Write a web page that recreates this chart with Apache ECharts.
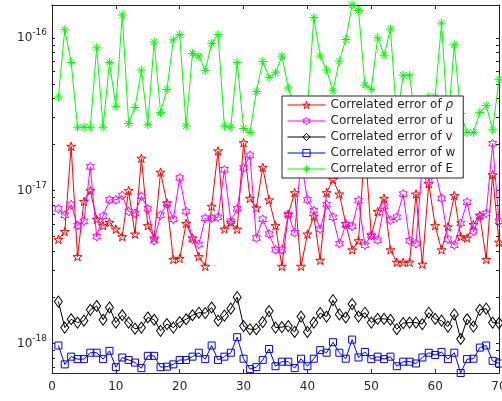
<!DOCTYPE html>
<html>
<head>
<meta charset="utf-8">
<script src="https://cdn.jsdelivr.net/npm/echarts@6/dist/echarts.min.js"></script>
<style>
  html, body { margin: 0; padding: 0; background: #fff; }
  #chart { width: 502px; height: 401px; }
</style>
</head>
<body>
<div id="chart"></div>
<script>
// x positions (iteration index)
const xs = [1,2,3,4,5,6,7,8,9,10,11,12,13,14,15,16,17,18,19,20,
  21,22,23,24,25,26,27,28,29,30,31,32,33,34,35,36,37,38,39,40,
  41,42,43,44,45,46,47,48,49,50,51,52,53,54,55,56,57,58,59,60,
  61,62,63,64,65,66,67,68,69,70];

// correlated error of rho
const errRho = [4.8e-18,5.4e-18,1.95e-17,3.7e-18,8.5e-18,1.0e-17,6.5e-18,5.9e-18,6.2e-18,5.6e-18,
  5.0e-18,1.0e-17,5.2e-18,1.63e-17,5.9e-18,4.9e-18,1.32e-17,8.3e-18,3.55e-18,3.6e-18,
  6.1e-18,4.9e-18,3.7e-18,3.2e-18,7.9e-18,1.82e-17,5.6e-18,6.2e-18,5.6e-18,2.06e-17,
  8.9e-18,7.7e-18,1.42e-17,8.7e-18,5.9e-18,3.2e-18,7.0e-18,9.7e-18,3.2e-18,5.2e-18,
  6.8e-18,3.5e-18,9.7e-18,1.18e-17,9.5e-18,6.1e-18,4.1e-18,4.7e-18,2.0e-17,5.1e-18,
  7.3e-18,8.9e-18,4.1e-18,3.4e-18,3.4e-18,3.4e-18,9.5e-18,3.3e-18,1.11e-17,5.9e-18,
  4.1e-18,5.8e-18,9.3e-18,5.0e-18,4.9e-18,6.0e-18,6.9e-18,3.55e-18,1.27e-17,4.6e-18];

// correlated error of u
const errU = [7.6e-18,6.9e-18,8.1e-18,5.9e-18,6.3e-18,1.43e-17,5.0e-18,6.8e-18,8.7e-18,8.7e-18,
  9.3e-18,7.3e-18,7.1e-18,9.2e-18,7.6e-18,4.7e-18,6.9e-18,8.2e-18,6.5e-18,1.21e-17,
  7.3e-18,4.8e-18,4.45e-18,6.6e-18,6.6e-18,6.7e-18,1.37e-17,6.3e-18,7.6e-18,1.41e-17,
  1.7e-17,4.9e-18,6.5e-18,5.2e-18,4.1e-18,4.1e-18,7.0e-18,5.3e-18,1.6e-17,8.7e-18,
  7.4e-18,5.6e-18,8.1e-18,6.7e-18,4.5e-18,6.0e-18,5.85e-18,8.6e-18,4.4e-18,5.1e-18,
  4.75e-18,7.9e-18,6.4e-18,6.7e-18,9.5e-18,4.7e-18,4.5e-18,1.5e-17,1.17e-17,1.35e-17,
  8.9e-18,4.8e-18,4.4e-18,6.1e-18,8.4e-18,5.4e-18,6.8e-18,7.1e-18,2.03e-17,6.3e-18];

// correlated error of v
const errV = [1.88e-18,1.27e-18,1.44e-18,1.37e-18,1.41e-18,1.66e-18,1.76e-18,1.43e-18,1.72e-18,1.37e-18,
  1.53e-18,1.37e-18,1.25e-18,1.27e-18,1.48e-18,1.43e-18,1.21e-18,1.34e-18,1.27e-18,1.38e-18,
  1.44e-18,1.53e-18,1.59e-18,1.58e-18,1.72e-18,1.41e-18,1.52e-18,1.69e-18,2.01e-18,1.30e-18,
  1.24e-18,1.24e-18,1.38e-18,1.63e-18,1.27e-18,1.28e-18,1.30e-18,1.19e-18,1.50e-18,1.19e-18,
  1.37e-18,1.58e-18,1.50e-18,1.92e-18,1.55e-18,1.48e-18,1.81e-18,1.50e-18,1.59e-18,1.37e-18,
  1.45e-18,1.45e-18,1.43e-18,1.24e-18,1.36e-18,1.37e-18,1.37e-18,1.34e-18,1.59e-18,1.45e-18,
  1.41e-18,1.29e-18,1.55e-18,1.07e-18,1.44e-18,1.29e-18,1.66e-18,1.69e-18,1.37e-18,1.36e-18];

// correlated error of w
const errW = [9.7e-19,7.3e-19,8.2e-19,7.9e-19,7.9e-19,8.7e-19,8.7e-19,7.9e-19,8.95e-19,7.0e-19,
  8.1e-19,7.8e-19,7.5e-19,6.9e-19,8.3e-19,8.3e-19,7.0e-19,7.05e-19,7.3e-19,7.8e-19,
  7.8e-19,8.2e-19,8.7e-19,7.9e-19,9.7e-19,7.8e-19,8.2e-19,8.7e-19,1.1e-18,7.95e-19,
  6.8e-19,7.0e-19,7.8e-19,9.2e-19,7.1e-19,7.6e-19,7.6e-19,6.9e-19,7.95e-19,7.1e-19,
  7.95e-19,9.05e-19,8.7e-19,1.02e-18,8.7e-19,7.95e-19,1.06e-18,8.1e-19,8.8e-19,7.9e-19,
  8.2e-19,7.9e-19,8.2e-19,7.1e-19,7.6e-19,7.6e-19,7.4e-19,8.1e-19,8.7e-19,8.4e-19,
  8.8e-19,7.9e-19,8.7e-19,6.41e-19,7.9e-19,7.95e-19,9.4e-19,9.7e-19,7.7e-19,7.4e-19];

// correlated error of E
const errE = [4.1e-17,1.13e-16,6.9e-17,2.6e-17,2.6e-17,2.6e-17,8.6e-17,2.6e-17,6.9e-17,3.55e-17,
  1.41e-16,2.75e-17,3.5e-17,6.15e-17,2.7e-17,9.4e-17,3.25e-17,4.6e-17,9.7e-17,1.05e-16,
  2.65e-17,7.9e-17,7.6e-17,6.1e-17,9.2e-17,1.05e-16,2.65e-17,2.6e-17,6.9e-17,2.55e-17,
  2.4e-17,4.45e-17,7.0e-17,5.5e-17,5.9e-17,7.6e-17,4.7e-17,3.5e-17,2.5e-17,3.4e-17,
  1.36e-16,7.6e-17,6.15e-17,4.5e-17,7.05e-17,9.75e-17,1.64e-16,1.51e-16,4.9e-17,4.6e-17,
  1.0e-16,7.7e-17,1.14e-16,2.9e-17,5.7e-17,5.7e-17,2.6e-17,3.1e-17,4.1e-17,4.1e-17,
  1.25e-16,2.7e-17,9.0e-17,3.2e-17,2.4e-17,2.4e-17,3.25e-17,3.6e-17,2.5e-17,5.35e-17];

// log axis ticks (1..9 x 10^n) and labelled decades
const yTicks = [7e-19,8e-19,9e-19,
  1e-18,2e-18,3e-18,4e-18,5e-18,6e-18,7e-18,8e-18,9e-18,
  1e-17,2e-17,3e-17,4e-17,5e-17,6e-17,7e-17,8e-17,9e-17,1e-16];
const yLabels = [1e-18,1e-17,1e-16];

const seriesNames = ['Correlated error of {i|ρ}','Correlated error of u','Correlated error of v',
  'Correlated error of w','Correlated error of E'];
const seriesColors = ['#ff0000','#ff00ff','#000000','#0000ff','#00ff00'];

// marker shapes like MATLAB p, h, d, s, *
const pentagram = 'path://M0,-1L0.2245,-0.309L0.951,-0.309L0.3633,0.118L0.588,0.809L0,0.382L-0.588,0.809L-0.3633,0.118L-0.951,-0.309L-0.2245,-0.309Z';
const hexagram = 'path://M0,-1L0.2887,-0.5L0.866,-0.5L0.577,0L0.866,0.5L0.2887,0.5L0,1L-0.2887,0.5L-0.866,0.5L-0.577,0L-0.866,-0.5L-0.2887,-0.5Z';
const asterisk = 'path://M0,-1L0,1M-1,0L1,0M-0.7,-0.7L0.7,0.7M-0.7,0.7L0.7,-0.7';

const allErr = [].concat(errRho, errU, errV, errW, errE);
const yMin = Math.min.apply(null, allErr);
const yMax = Math.max.apply(null, allErr);

const axisColor = '#262626';
const chart = echarts.init(document.getElementById('chart'));

function pairs(vals) {
  return xs.map((x, i) => [x, vals[i]]);
}

function lineSeries(idx, vals, symbol, size) {
  const c = seriesColors[idx];
  return {
    name: seriesNames[idx],
    type: 'line',
    data: pairs(vals),
    symbol: symbol,
    symbolSize: size,
    symbolKeepAspect: true,
    lineStyle: { color: c, width: 1 },
    itemStyle: { color: 'transparent', borderColor: c, borderWidth: 1 },
    emphasis: { disabled: true },
    z: 2 + idx
  };
}

const yLabelFmt = function (value) {
  const e = Math.round(Math.log10(value));
  return '{b|10}{s|' + e + '}';
};

const option = {
  animation: false,
  backgroundColor: '#fff',
  textStyle: { fontFamily: 'DejaVu Sans' },
  grid: { left: 52, right: 3, top: 5, bottom: 28, outerBoundsMode: 'none' },
  legend: {
    orient: 'vertical',
    left: 282,
    top: 96,
    padding: [3, 8, 3, 5],
    itemGap: 4,
    itemWidth: 38,
    itemHeight: 9,
    backgroundColor: '#fff',
    borderColor: axisColor,
    borderWidth: 1,
    z: 20,
    itemStyle: { color: 'transparent', borderWidth: 1 },
    lineStyle: { width: 1 },
    textStyle: {
      fontSize: 12,
      color: axisColor,
      rich: { i: { fontSize: 12, fontStyle: 'italic', color: axisColor } }
    },
    data: seriesNames
  },
  xAxis: [{
    type: 'value', min: 0, max: 70, interval: 10,
    axisLine: { onZero: false, lineStyle: { color: axisColor, width: 1 } },
    axisTick: { inside: true, length: 4, lineStyle: { color: axisColor } },
    axisLabel: { color: axisColor, fontSize: 12, margin: 8 },
    splitLine: { show: false }
  }, {
    type: 'value', position: 'top', min: 0, max: 70, interval: 10,
    axisLine: { onZero: false, lineStyle: { color: axisColor, width: 1 } },
    axisTick: { inside: true, length: 4, lineStyle: { color: axisColor } },
    axisLabel: { show: false },
    splitLine: { show: false }
  }],
  yAxis: [{
    type: 'log', min: yMin, max: yMax, position: 'left',
    axisLine: { show: true, onZero: false, lineStyle: { color: axisColor, width: 1 } },
    axisTick: { inside: true, length: 3, customValues: yTicks, lineStyle: { color: axisColor } },
    axisLabel: {
      customValues: yLabels,
      formatter: yLabelFmt,
      margin: 5,
      rich: {
        b: { fontSize: 12, color: axisColor },
        s: { fontSize: 9, color: axisColor, padding: [0, 0, 10, 0] }
      }
    },
    splitLine: { show: false }
  }, {
    type: 'log', min: yMin, max: yMax, position: 'right',
    axisLine: { show: true, onZero: false, lineStyle: { color: axisColor, width: 1 } },
    axisTick: { inside: true, length: 3, customValues: yTicks, lineStyle: { color: axisColor } },
    axisLabel: { show: false },
    splitLine: { show: false }
  }],
  series: [
    lineSeries(0, errRho, pentagram, 9),
    lineSeries(1, errU, hexagram, 9),
    lineSeries(2, errV, 'diamond', [8, 11]),
    lineSeries(3, errW, 'rect', 7),
    lineSeries(4, errE, asterisk, 9)
  ]
};

chart.setOption(option);
</script>
</body>
</html>
